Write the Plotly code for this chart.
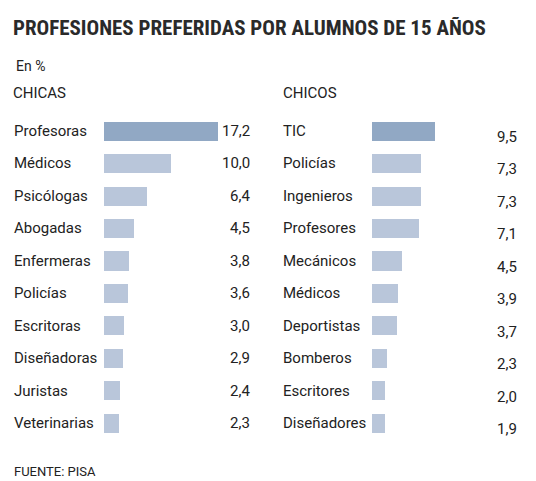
import plotly.graph_objects as go
from plotly.subplots import make_subplots

W, H = 536, 481

chicas_cat = ["Profesoras", "Médicos", "Psicólogas", "Abogadas", "Enfermeras",
              "Policías", "Escritoras", "Diseñadoras", "Juristas", "Veterinarias"]
chicas_val = [17.2, 10.0, 6.4, 4.5, 3.8, 3.6, 3.0, 2.9, 2.4, 2.3]
chicos_cat = ["TIC", "Policías", "Ingenieros", "Profesores", "Mecánicos",
              "Médicos", "Deportistas", "Bomberos", "Escritores", "Diseñadores"]
chicos_val = [9.5, 7.3, 7.3, 7.1, 4.5, 3.9, 3.7, 2.3, 2.0, 1.9]

DARK = "#91a8c4"
LIGHT = "#b9c6da"
TXT = "#222222"
FONT = "Roboto, Arial, sans-serif"

def px(x):
    return x / W

def py(y):
    return 1 - y / H

scale = 6.65  # px per unit
fig = make_subplots(rows=1, cols=2)

idx = list(range(len(chicas_cat)))
fig.add_trace(go.Bar(x=chicas_val, y=idx, orientation="h", width=0.59,
                     marker=dict(color=[DARK] + [LIGHT] * 9, line_width=0),
                     hoverinfo="skip"), row=1, col=1)
fig.add_trace(go.Bar(x=chicos_val, y=idx, orientation="h", width=0.59,
                     marker=dict(color=[DARK] + [LIGHT] * 9, line_width=0),
                     hoverinfo="skip"), row=1, col=2)

l0, l1 = 104, 251
r0, r1 = 372, 518
top, bot = 114.8, 439.2
ydom = [py(bot), py(top)]
fig.update_layout(
    xaxis=dict(domain=[px(l0), px(l1)], range=[0, (l1 - l0) / scale], visible=False),
    xaxis2=dict(domain=[px(r0), px(r1)], range=[0, (r1 - r0) / scale], visible=False),
    yaxis=dict(domain=ydom, range=[9.5, -0.5], visible=False),
    yaxis2=dict(domain=ydom, range=[9.5, -0.5], visible=False),
)

ann = []
for i, (c, v) in enumerate(zip(chicas_cat, chicas_val)):
    ann.append(dict(x=px(13), xref="paper", y=i, yref="y", text=c, xanchor="left",
                    yanchor="middle", showarrow=False, font=dict(size=15, color=TXT)))
    ann.append(dict(x=1, xref="x domain", y=i, yref="y", text=f"{v:.1f}".replace(".", ","),
                    xanchor="right", yanchor="middle", showarrow=False,
                    font=dict(size=15, color=TXT)))
for i, (c, v) in enumerate(zip(chicos_cat, chicos_val)):
    ann.append(dict(x=px(282), xref="paper", y=i, yref="y2", text=c, xanchor="left",
                    yanchor="middle", showarrow=False, font=dict(size=15, color=TXT)))
    ann.append(dict(x=1, xref="x2 domain", y=i, yref="y2", text=f"{v:.1f}".replace(".", ","),
                    xanchor="right", yanchor="middle", showarrow=False, yshift=-6,
                    font=dict(size=15, color=TXT)))

ann += [
    dict(x=px(12), y=py(28), xref="paper", yref="paper", xanchor="left", yanchor="middle",
         text="<b>PROFESIONES PREFERIDAS POR ALUMNOS DE 15 AÑOS</b>", showarrow=False,
         font=dict(size=21, color="#2a2a2a", family="Liberation Sans Narrow, Roboto Condensed, Roboto")),
    dict(x=px(15), y=py(66), xref="paper", yref="paper", xanchor="left", yanchor="middle",
         text="En %", showarrow=False, font=dict(size=14, color=TXT)),
    dict(x=px(12), y=py(93), xref="paper", yref="paper", xanchor="left", yanchor="middle",
         text="CHICAS", showarrow=False, font=dict(size=15, color=TXT)),
    dict(x=px(282), y=py(93), xref="paper", yref="paper", xanchor="left", yanchor="middle",
         text="CHICOS", showarrow=False, font=dict(size=15, color=TXT)),
    dict(x=px(13), y=py(471), xref="paper", yref="paper", xanchor="left", yanchor="middle",
         text="FUENTE: PISA", showarrow=False, font=dict(size=13, color=TXT)),
]

fig.update_layout(
    width=W, height=H, margin=dict(l=0, r=0, t=0, b=0),
    paper_bgcolor="white", plot_bgcolor="white", showlegend=False,
    font=dict(family=FONT, color=TXT), annotations=ann, bargap=0,
)
fig.update_annotations(borderpad=0)

fig.write_html("out.html", config={"displayModeBar": False})
